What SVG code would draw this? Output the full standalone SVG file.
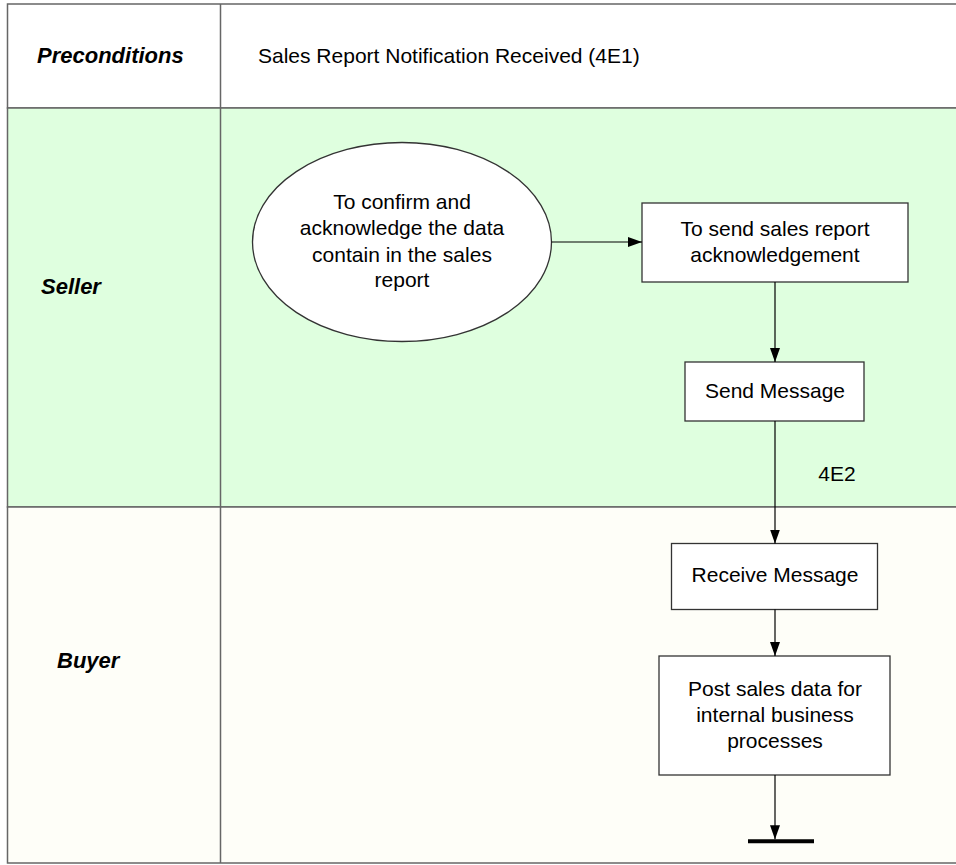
<svg xmlns="http://www.w3.org/2000/svg" width="956" height="865" viewBox="0 0 956 865">
<defs>
<style>
.lane{stroke:#666;stroke-width:1.5}
.box{fill:#fff;stroke:#333;stroke-width:1.3}
.t{font-family:"Liberation Sans",Arial,sans-serif;font-size:21px;fill:#000;text-anchor:middle}
.lbl{font-family:"Liberation Sans",Arial,sans-serif;font-size:22px;font-weight:bold;font-style:italic;fill:#000}
.c{fill:none;stroke:#000;stroke-width:1.2}
</style>
<marker id="ah" viewBox="0 0 14 10" refX="14" refY="5" markerWidth="14" markerHeight="10" markerUnits="userSpaceOnUse" orient="auto">
<path d="M0,0 L14,5 L0,10 z" fill="#000"/>
</marker>
</defs>
<g id="lanes">
<rect x="7.5" y="4" width="960" height="104" fill="#fff" class="lane"/>
<rect x="7.5" y="108" width="960" height="399" fill="#dfffdf" class="lane"/>
<rect x="7.5" y="507" width="960" height="356" fill="#fefef8" class="lane"/>
<line x1="220.5" y1="4" x2="220.5" y2="863" class="lane"/>
<text class="lbl" x="37" y="63">Preconditions</text>
<text class="t" x="258" y="63" style="text-anchor:start">Sales Report Notification Received (4E1)</text>
<text class="lbl" x="41" y="294">Seller</text>
<text class="lbl" x="57" y="668">Buyer</text>
</g>
<g id="confirm">
<ellipse cx="402" cy="242" rx="149.5" ry="99.5" class="box"/>
<text class="t" x="402" y="209">To confirm and</text>
<text class="t" x="402" y="235">acknowledge the data</text>
<text class="t" x="402" y="261.5">contain in the sales</text>
<text class="t" x="402" y="287">report</text>
</g>
<g id="sendack">
<rect x="642" y="203" width="266" height="79" class="box"/>
<text class="t" x="775" y="236">To send sales report</text>
<text class="t" x="775" y="262">acknowledgement</text>
</g>
<g id="sendmsg">
<rect x="685" y="362" width="179" height="59" class="box"/>
<text class="t" x="775" y="398">Send Message</text>
</g>
<g id="recvmsg">
<rect x="671.5" y="543.5" width="206" height="66" class="box"/>
<text class="t" x="775" y="582">Receive Message</text>
</g>
<g id="post">
<rect x="659" y="656" width="231" height="119" class="box"/>
<text class="t" x="775" y="696">Post sales data for</text>
<text class="t" x="775" y="722">internal business</text>
<text class="t" x="775" y="748">processes</text>
</g>
<g id="end">
<line x1="748" y1="841.3" x2="814" y2="841.3" stroke="#000" stroke-width="4"/>
</g>
<g id="connectors">
<line x1="551.5" y1="242" x2="642" y2="242" class="c" marker-end="url(#ah)"/>
<line x1="775" y1="282" x2="775" y2="362" class="c" marker-end="url(#ah)"/>
<line x1="775" y1="421" x2="775" y2="543.5" class="c" marker-end="url(#ah)"/>
<text class="t" x="837" y="481">4E2</text>
<line x1="775" y1="609.5" x2="775" y2="656" class="c" marker-end="url(#ah)"/>
<line x1="775" y1="775" x2="775" y2="839.3" class="c" marker-end="url(#ah)"/>
</g>
</svg>
